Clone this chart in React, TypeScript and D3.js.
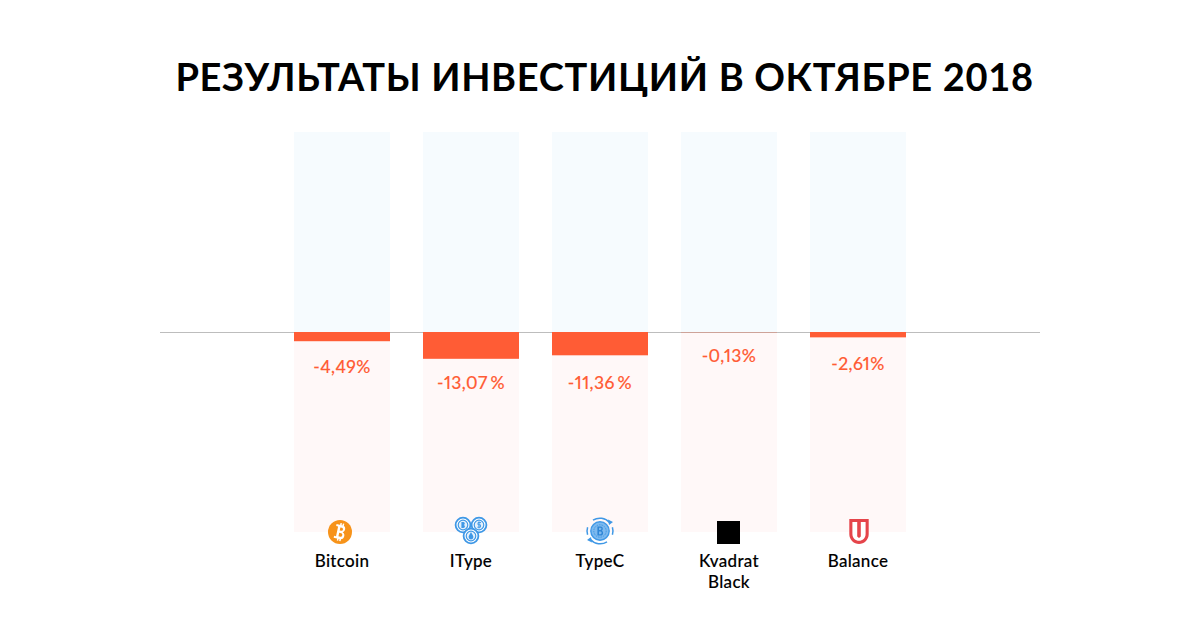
import * as d3 from "d3";

const categories = ["Bitcoin", "IType", "TypeC", "Kvadrat Black", "Balance"];
const values = [-4.49, -13.07, -11.36, -0.13, -2.61];
const valueLabels = ["-4,49%", "-13,07 %", "-11,36 %", "-0,13%", "-2,61%"];
const title = "РЕЗУЛЬТАТЫ ИНВЕСТИЦИЙ В ОКТЯБРЕ 2018";

// label baselines were placed by hand in the original, so they sit a bit unevenly
const labelGaps = [31.5, 30, 33.5, 30, 32.5];

const WIDTH = 1200;
const HEIGHT = 630;
const FONT = "Lato, sans-serif";
const ORANGE = "#ff5c35";
const BLUE = "#3f98e6";

const x = d3
  .scaleBand<string>()
  .domain(categories)
  .range([294, 906])
  .paddingInner(33 / 129)
  .paddingOuter(0);

const y = d3.scaleLinear().domain([97.5, -97.5]).range([132, 532]);

function BitcoinIcon({ cx }: { cx: number }) {
  return (
    <g transform={`translate(${cx - 2},532)`}>
      <circle r={12} fill="#f7931a" />
      <g transform="rotate(12)" fill="#fff">
        <path
          fillRule="evenodd"
          d="M-5,-7 H1.5 C5,-7 5.5,-1.4 2.6,-0.4 C6.2,0.4 5.8,7 1.5,7 H-5 V5 H-3 V-5 H-5 Z M-0.6,-4.6 V-1.4 H1 C2.8,-1.4 2.8,-4.6 1,-4.6 Z M-0.6,1 V4.6 H1.4 C3.4,4.6 3.4,1 1.4,1 Z"
        />
        <rect x={-1.4} y={-9} width={1.5} height={3} />
        <rect x={1} y={-9} width={1.5} height={3} />
        <rect x={-1.4} y={6} width={1.5} height={3} />
        <rect x={1} y={6} width={1.5} height={3} />
      </g>
    </g>
  );
}

function ITypeIcon({ cx }: { cx: number }) {
  const coins = [
    { dx: -8, dy: -7 },
    { dx: 8, dy: -7 },
    { dx: 0, dy: 4 },
  ];
  return (
    <g transform={`translate(${cx},532)`}>
      {coins.map((c, i) => (
        <g key={i} transform={`translate(${c.dx},${c.dy})`}>
          <circle r={7.4} fill="#fff" stroke={BLUE} strokeWidth={1.8} />
          <circle r={4.8} fill="#e4f0fb" stroke={BLUE} strokeWidth={1.2} />
        </g>
      ))}
      <path d="M-9.6,-10 V-4 H-7.6 C-5.6,-4 -5.6,-7 -7.4,-7 C-5.8,-7 -5.8,-10 -7.6,-10 Z" fill={BLUE} />
      <path d="M10,-9.4 H7 V-7.2 H9.4 V-4.8 H6.4 M8,-10.6 V-3.6" fill="none" stroke={BLUE} strokeWidth={1} />
      <path d="M0,0 C1,2 2.4,3.6 2.4,5 A2.4,2.4 0 0 1 -2.4,5 C-2.4,3.6 -1,2 0,0 Z" fill={BLUE} />
    </g>
  );
}

function TypeCIcon({ cx }: { cx: number }) {
  return (
    <g transform={`translate(${cx},531)`}>
      <path d="M-7,-10.8 A12.8,12.8 0 0 1 9.5,-8.5" fill="none" stroke={BLUE} strokeWidth={1.5} />
      <path d="M7,10.8 A12.8,12.8 0 0 1 -9.5,8.5" fill="none" stroke={BLUE} strokeWidth={1.5} />
      <path d="M-12.4,-3.8 A12.8,12.8 0 0 0 -12.4,3.8 M12.4,3.8 A12.8,12.8 0 0 0 12.4,-3.8" fill="none" stroke={BLUE} strokeWidth={1.5} />
      <path d="M8,-11.5 L13,-9 L9,-6 Z M-8,11.5 L-13,9 L-9,6 Z" fill={BLUE} />
      <circle r={9.2} fill="#7db9ee" stroke={BLUE} strokeWidth={1.4} />
      <circle r={6.2} fill="none" stroke={BLUE} strokeWidth={1} strokeDasharray="1.5 1" />
      <path
        fillRule="evenodd"
        d="M-2.6,-4.6 H0.8 C3.2,-4.6 3.4,-1 1.6,-0.3 C3.8,0.2 3.6,4.6 0.8,4.6 H-2.6 Z M-1,-3.2 V-1 H0.5 C1.8,-1 1.8,-3.2 0.5,-3.2 Z M-1,0.6 V3.2 H0.6 C2,3.2 2,0.6 0.6,0.6 Z"
        fill="#2f86d6"
      />
    </g>
  );
}

function KvadratIcon({ cx }: { cx: number }) {
  return <rect x={cx - 12} y={521} width={23} height={23} fill="#000" />;
}

function BalanceIcon({ cx }: { cx: number }) {
  return (
    <g transform={`translate(${cx + 1},519)`}>
      <path d="M-9.7,0 H9.7 V15 C9.7,21 5,25 0,25 C-5,25 -9.7,21 -9.7,15 Z" fill="#e5444a" />
      <path d="M-6.6,3 H-1.8 V17.5 L0,19 L1.8,17.5 V3 H6.6 V15 C6.6,19 3.5,21.8 0,21.8 C-3.5,21.8 -6.6,19 -6.6,15 Z" fill="#fff" />
    </g>
  );
}

const icons = [BitcoinIcon, ITypeIcon, TypeCIcon, KvadratIcon, BalanceIcon];

export default function App() {
  const y0 = y(0);
  return (
    <svg
      width={WIDTH}
      height={HEIGHT}
      viewBox={`0 0 ${WIDTH} ${HEIGHT}`}
      style={{ position: "absolute", left: 0, top: 0, background: "#fff" }}
      fontFamily={FONT}
    >
      <text x={604.5} y={91} textAnchor="middle" fontSize={38} fontWeight={700} fill="#000" letterSpacing={0.67}>
        {title}
      </text>

      {categories.map((c) => (
        <g key={c}>
          <rect x={x(c)} y={y(97.5)} width={x.bandwidth()} height={y0 - y(97.5)} fill="#f6fbfe" />
          <rect x={x(c)} y={y0} width={x.bandwidth()} height={y(-97.5) - y0} fill="#fff8f8" />
        </g>
      ))}

      <line x1={160} x2={1040} y1={y0 + 0.5} y2={y0 + 0.5} stroke="#bdbdbd" />

      {categories.map((c, i) => {
        const cx = (x(c) as number) + x.bandwidth() / 2;
        const Icon = icons[i];
        return (
          <g key={c}>
            <rect x={x(c)} y={y0} width={x.bandwidth()} height={y(values[i]) - y0} fill={ORANGE} />
            <text
              x={cx}
              y={y(values[i]) + labelGaps[i]}
              textAnchor="middle"
              fontSize={17.5}
              fontWeight={500}
              letterSpacing={0.4}
              wordSpacing={-2}
              fill={ORANGE}
              stroke={ORANGE}
              strokeWidth={0.12}
              style={{ fontFeatureSettings: '"pnum"' }}
            >
              {valueLabels[i]}
            </text>
            <Icon cx={cx} />
            <text
              textAnchor="middle"
              fontSize={17}
              fontWeight={500}
              letterSpacing={0.3}
              fill="#000"
              stroke="#000"
              strokeWidth={0.12}
            >
              {c.split(" ").map((part, j) => (
                <tspan key={part} x={cx} y={567 + j * 21}>
                  {part}
                </tspan>
              ))}
            </text>
          </g>
        );
      })}
    </svg>
  );
}
